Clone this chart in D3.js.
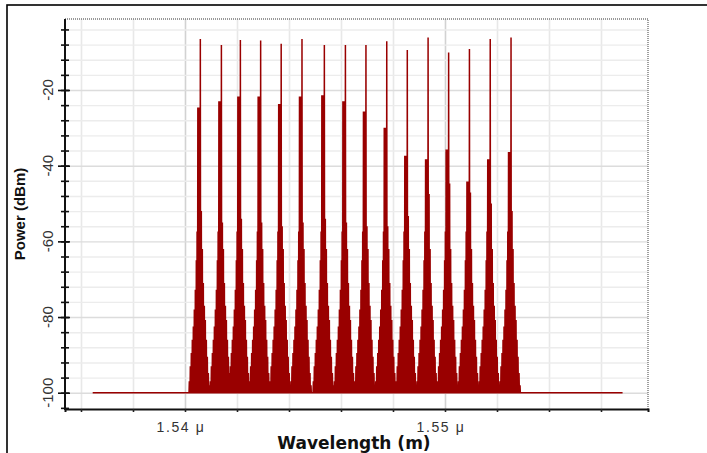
<!DOCTYPE html>
<html>
<head>
<meta charset="utf-8">
<script src="https://cdn.jsdelivr.net/npm/d3@7"></script>
<style>
  body { margin: 0; background: #fff; }
  svg { display: block; font-family: "Liberation Sans", Arial, sans-serif; }
</style>
</head>
<body>
<div id="chart"></div>
<script>
// channel centres (nm) and levels
var channelWavelengthNm = [1540.59, 1541.40, 1542.13, 1542.91, 1543.70, 1544.50, 1545.36, 1546.17,
                           1546.96, 1547.76, 1548.55, 1549.35, 1550.14, 1550.94, 1551.74, 1552.54];
var peakDbm =          [-6.5, -8.1, -6.8, -6.9, -7.8, -6.5, -8.1, -8.1, -8.1, -7.1, -9.4, -6.1, -10.1, -9.2, -6.5, -6.1];
var leftShoulderDbm =  [-24.6, -23.0, -21.7, -21.7, -23.7, -21.7, -21.4, -23.0, -25.7, -30.0, -37.4, -38.3, -35.7, -44.2, -38.3, -36.4];
var rightShoulderDbm = [-52, -55, -54, -55, -56, -55, -54, -55, -56, -56, -53.3, -47.5, -44.7, -47.1, -50, -52];

// lower sidebands around every channel (offset from centre in nm, level in dBm)
var sidebandOffsetNm = [-0.423, -0.385, -0.346, -0.308, -0.269, -0.231, -0.192, -0.154, -0.125,
                        0.077, 0.115, 0.154, 0.192, 0.231, 0.269, 0.308, 0.346];
var sidebandDbm =      [-97, -93, -89.5, -86, -82.5, -78, -72.8, -65, -57.4,
                        -62, -71, -77, -80.8, -86, -90.5, -94.8, -98];
var shoulderOffsetNm = [-0.096, -0.064, -0.032];

var floorDbm = -100;
var traceStartNm = 1536.45;
var traceEndNm = 1556.83;

var xTickValues = [1540, 1550];
var xTickLabels = ["1.54 \u03bc", "1.55 \u03bc"];
var xMinorTicks = [1536, 1538, 1540, 1542, 1544, 1546, 1548, 1550, 1552, 1554, 1556];
var yTickValues = [-100, -80, -60, -40, -20];
var yMinorTicks = [-104, -100, -96, -92, -88, -84, -80, -76, -72, -68, -64, -60, -56, -52, -48,
                   -44, -40, -36, -32, -28, -24, -20, -16, -12, -8, -4];

function drawChart() {
    var w = 707;
    var h = 453;
    var padLeft = 65, padRight = 648, padTop = 19, padBottom = 409;

    var x = d3.scaleLinear().domain([1535.385, 1557.808]).range([padLeft, padRight]);
    var y = d3.scaleLinear().domain([-104.3, -1.24]).range([padBottom, padTop]);

    var svg = d3.select("#chart").append("svg")
        .attr("width", w)
        .attr("height", h);

    // outer frame
    svg.append("rect")
        .attr("x", 7).attr("y", 5)
        .attr("width", 730).attr("height", 470)
        .attr("fill", "none")
        .attr("stroke", "#000")
        .attr("stroke-width", 1.6);

    // grid lines
    svg.append("g")
        .attr("transform", "translate(0," + padBottom + ")")
        .call(d3.axisBottom(x).tickValues(xMinorTicks).tickSize(-(padBottom - padTop)).tickFormat(""))
        .call(function (g) {
            g.select(".domain").remove();
            g.selectAll("line")
                .attr("stroke", function (d) { return xTickValues.indexOf(d) >= 0 ? "#d2d2d2" : "#e8e8e8"; })
                .attr("stroke-width", 1.6);
        });

    svg.append("g")
        .attr("transform", "translate(" + padLeft + ",0)")
        .call(d3.axisLeft(y).tickValues(yMinorTicks.filter(function (d) { return d > -104; }))
            .tickSize(-(padRight - padLeft)).tickFormat(""))
        .call(function (g) {
            g.select(".domain").remove();
            g.selectAll("line")
                .attr("stroke", function (d) { return yTickValues.indexOf(d) >= 0 ? "#dcdcdc" : "#ececec"; })
                .attr("stroke-width", 1.4);
        });

    // build the spectrum samples
    var samples = [];
    channelWavelengthNm.forEach(function (c, i) {
        sidebandOffsetNm.forEach(function (o, j) {
            samples.push([c + o, sidebandDbm[j]]);
        });
        shoulderOffsetNm.forEach(function (o) {
            samples.push([c + o, leftShoulderDbm[i]]);
        });
        samples.push([c, peakDbm[i]]);
        samples.push([c + 0.038, rightShoulderDbm[i]]);
    });
    samples.sort(function (a, b) { return a[0] - b[0]; });

    var trace = [[traceStartNm, floorDbm]];
    samples.forEach(function (s) {
        trace.push([s[0] - 0.012, floorDbm]);
        trace.push(s);
        trace.push([s[0] + 0.012, floorDbm]);
    });
    trace.push([traceEndNm, floorDbm]);

    var line = d3.line()
        .x(function (d) { return x(d[0]); })
        .y(function (d) { return y(d[1]); });

    svg.append("path")
        .datum(trace)
        .attr("d", line)
        .attr("fill", "none")
        .attr("stroke", "#990000")
        .attr("stroke-width", 1.5)
        .attr("stroke-linejoin", "miter");

    // top and right dotted borders
    svg.append("path")
        .attr("d", "M" + padLeft + "," + padTop + "H" + padRight + "V" + padBottom)
        .attr("fill", "none")
        .attr("stroke", "#777")
        .attr("stroke-width", 1.4)
        .attr("stroke-dasharray", "1,1");

    // x axis
    svg.append("g")
        .attr("transform", "translate(0," + padBottom + ")")
        .call(d3.axisBottom(x).tickValues(xMinorTicks).tickSize(3).tickFormat(""))
        .call(function (g) {
            g.select(".domain").attr("stroke", "#111").attr("stroke-width", 2);
            g.selectAll("line").attr("stroke", "#222").attr("stroke-width", 1.6);
        });

    svg.selectAll(".xlabel")
        .data(xTickValues)
        .enter()
        .append("text")
        .attr("class", "xlabel")
        .attr("x", function (d) { return x(d) - 4; })
        .attr("y", 432)
        .attr("text-anchor", "middle")
        .attr("font-size", 14)
        .attr("letter-spacing", 1.6)
        .attr("fill", "#333")
        .text(function (d, i) { return xTickLabels[i]; });

    svg.append("text")
        .attr("x", 354)
        .attr("y", 449)
        .attr("text-anchor", "middle")
        .attr("font-family", "DejaVu Sans, sans-serif")
        .attr("font-size", 17)
        .attr("font-weight", "bold")
        .attr("fill", "#111")
        .text("Wavelength (m)");

    // y axis
    svg.append("g")
        .attr("transform", "translate(" + (padLeft + 4) + ",0)")
        .call(d3.axisLeft(y).tickValues(yMinorTicks).tickSize(8).tickFormat(""))
        .call(function (g) {
            g.select(".domain").remove();
            g.selectAll("line").attr("stroke", "#111").attr("stroke-width", 1.6);
        });

    svg.append("g")
        .attr("transform", "translate(" + (padLeft + 5) + ",0)")
        .call(d3.axisLeft(y).tickValues(yTickValues).tickSize(12).tickFormat(""))
        .call(function (g) {
            g.select(".domain").remove();
            g.selectAll("line").attr("stroke", "#111").attr("stroke-width", 1.6);
        });

    svg.append("line")
        .attr("x1", padLeft).attr("x2", padLeft)
        .attr("y1", padTop).attr("y2", padBottom + 1)
        .attr("stroke", "#111")
        .attr("stroke-width", 2);

    svg.selectAll(".ylabel")
        .data(yTickValues)
        .enter()
        .append("text")
        .attr("class", "ylabel")
        .attr("transform", function (d) { return "translate(53," + y(d) + ") rotate(-90)"; })
        .attr("text-anchor", "middle")
        .attr("font-size", 15)
        .attr("fill", "#333")
        .text(function (d) { return d; });

    svg.append("text")
        .attr("transform", "translate(25," + ((padTop + padBottom) / 2) + ") rotate(-90)")
        .attr("text-anchor", "middle")
        .attr("font-size", 15)
        .attr("font-weight", "bold")
        .attr("fill", "#111")
        .text("Power (dBm)");
}

drawChart();
</script>
</body>
</html>
